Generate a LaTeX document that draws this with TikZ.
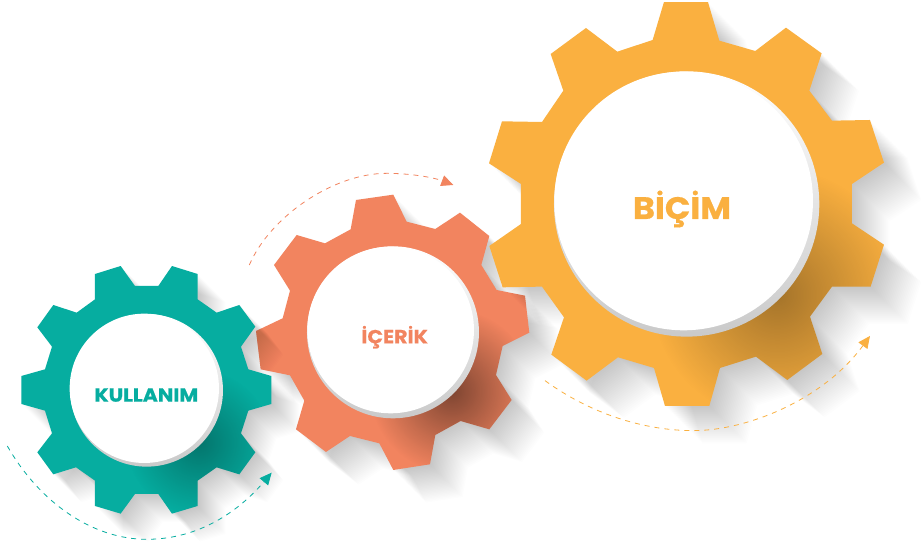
\documentclass[tikz,border=0pt]{standalone}
\usepackage{fontspec}
\setmainfont{Poppins}[FakeStretch=1.08,FakeBold=0.6]
\usetikzlibrary{arrows.meta,fadings}
\definecolor{teal1}{HTML}{06ADA0}
\definecolor{orange1}{HTML}{F2845F}
\definecolor{yellow1}{HTML}{FAB040}
\tikzfading[name=softblob,inner color=transparent!0,outer color=transparent!100]
\def\gearA{(285,72)--(362,48)--(405,108)--(475,108)--(516,48)--(593,72)--(593,148)--(650,188)--(718,165)--(766,230)--(723,290)--(745,358)--(814,378)--(814,462)--(745,482)--(723,550)--(766,607)--(718,673)--(650,652)--(593,692)--(593,768)--(516,791)--(475,732)--(405,732)--(362,791)--(285,768)--(285,692)--(228,652)--(160,673)--(112,607)--(156,550)--(135,482)--(64,462)--(64,378)--(135,358)--(156,290)--(112,232)--(160,165)--(230,188)--(285,148)--cycle}
\def\gearB{(348,120)--(460,104)--(500,185)--(586,207)--(660,158)--(748,228)--(724,315)--(770,390)--(855,407)--(868,518)--(788,558)--(768,645)--(815,720)--(748,808)--(662,783)--(586,825)--(570,913)--(460,930)--(418,850)--(330,828)--(258,876)--(168,808)--(193,722)--(150,646)--(62,628)--(48,513)--(128,475)--(150,392)--(102,315)--(170,225)--(255,250)--(332,208)--cycle}
\def\gearC{(552,6)--(684,6)--(718,122)--(826,153)--(918,83)--(1025,160)--(988,272)--(1056,362)--(1170,360)--(1212,488)--(1116,552)--(1116,670)--(1212,734)--(1172,860)--(1056,860)--(990,950)--(1027,1062)--(922,1140)--(828,1070)--(720,1104)--(688,1218)--(555,1218)--(522,1104)--(414,1072)--(320,1142)--(214,1064)--(252,952)--(186,860)--(68,862)--(28,738)--(123,672)--(123,552)--(27,490)--(66,364)--(186,366)--(250,272)--(212,162)--(318,84)--(412,155)--(518,120)--cycle}
% #1 gear path, #2 colour, #3/#4 lip centre, #5 lip radius, #6/#7 face centre, #8 face radius, #9 shadow reach per step
\newcommand{\drawgear}[9]{%
  \foreach \s in {1,...,28}{\fill[black,opacity=0.009,shift={(\s*#9,\s*#9)}] #1;}
  \fill[#2] #1;
  \begin{scope}
    \clip #1;
    \fill[black,opacity=\innerop,path fading=softblob] ({#3+#5*0.68},{#4+#5*0.68}) circle[radius=#5*0.95];
  \end{scope}
  \shade[shading angle=45,top color=white,bottom color=gray!42] (#3,#4) circle[radius=#5];
  \fill[white] (#6,#7) circle[radius=#8];
}
\tikzset{
  gearlabel/.style={anchor=base,inner sep=0pt},
  flow/.style={line width=0.8pt,dash pattern=on 5pt off 5pt,-{Triangle[length=12pt,width=11pt]}}
}
\begin{document}
\begin{tikzpicture}[x=1pt,y=-1pt]
\useasboundingbox (0,0) rectangle (922,549);
\fill[white] (0,0) rectangle (922,549);
% orange gear
\begin{scope}[shift={(240,160)},x=0.3333pt,y=-0.3333pt]
  \def\innerop{0.48}
  \drawgear{\gearB}{orange1}{459}{517}{258}{452}{510}{250}{3.5}
  \node[gearlabel,text=orange1,font=\bfseries\fontsize{19}{19}\selectfont] (lb) at (464,550) {İÇERİK};
  \coordinate (b0) at (28,315);
  \coordinate (b1) at (440,40);
  \coordinate (b2) at (640,75);
  \draw[flow,orange1] (b0) .. controls (90,170) and (280,40) .. (b1) .. controls (510,40) and (580,52) .. (b2);
\end{scope}
% teal gear
\begin{scope}[shift={(0,250)},x=0.3333pt,y=-0.3333pt]
  \def\innerop{0.32}
  \drawgear{\gearA}{teal1}{440}{421}{229}{433}{415}{224}{3}
  \node[gearlabel,text=teal1,font=\bfseries\fontsize{19}{19}\selectfont] (la) at (439,455) {KULLANIM};
  \coordinate (a0) at (22,588);
  \coordinate (a1) at (440,868);
  \coordinate (a2) at (815,668);
  \draw[flow,teal1] (a0) .. controls (120,760) and (280,868) .. (a1) .. controls (600,868) and (720,780) .. (a2);
\end{scope}
% yellow gear
\begin{scope}[shift={(480,0)},x=0.3333pt,y=-0.3333pt]
  \def\innerop{0.34}
  \drawgear{\gearC}{yellow1}{620}{612}{398}{611}{603}{388}{4}
  \node[gearlabel,text=yellow1,font=\bfseries\fontsize{31}{31}\selectfont] (lc) at (606,657) {BİÇİM};
  \coordinate (c0) at (195,1142);
  \coordinate (c1) at (640,1292);
  \coordinate (c2) at (1170,1008);
  \draw[flow,yellow1] (c0) .. controls (330,1240) and (490,1292) .. (c1) .. controls (800,1292) and (1030,1200) .. (c2);
\end{scope}
\end{tikzpicture}
\end{document}
